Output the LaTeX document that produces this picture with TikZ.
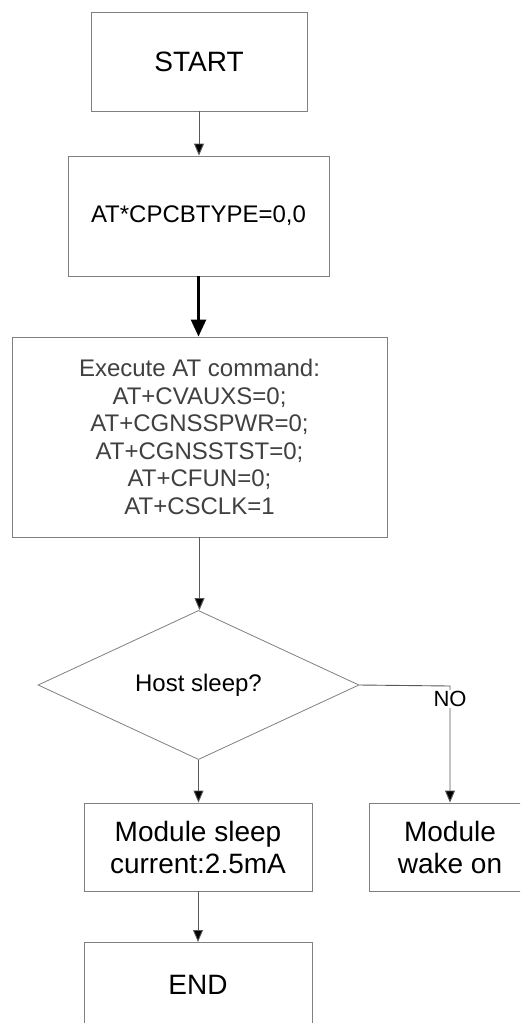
\documentclass[tikz,border=0pt]{standalone}
\usepackage{fontspec}
\setmainfont{Liberation Sans}
\usetikzlibrary{shapes.geometric,arrows.meta}
\begin{document}
\begin{tikzpicture}[x=1pt,y=-1pt,
  stepbox/.style={draw=black!50,line width=0.9pt,fill=white,inner sep=0pt,align=center,text=black},
  decbox/.style={diamond,draw=black!50,line width=0.8pt,inner sep=0pt,text=black},
  conn/.style={draw=black!65,line width=0.9pt,-{Triangle[width=10pt,length=12pt,fill=black]}},
  thickconn/.style={draw=black,line width=2.6pt,-{Triangle[width=15pt,length=17pt,fill=black]}},
  lbl/.style={fill=white,inner sep=1pt,text=black}]
\useasboundingbox (0,0) rectangle (520,1023);
\clip (0,0) rectangle (520,1023);
\fill[white] (0,0) rectangle (520,1023);
\node[stepbox,minimum width=216pt,minimum height=99pt,font=\fontsize{28}{32}\selectfont] (start) at (199,61.5) {START};
\node[stepbox,minimum width=261pt,minimum height=120pt,font=\fontsize{24}{28}\selectfont] (cpcb) at (198.5,216) {AT*CPCBTYPE=0,0};
\node[stepbox,minimum width=375pt,minimum height=200pt,text=black!75,font=\fontsize{24}{27.5}\selectfont] (exec) at (199.5,437) {Execute AT command:\\AT+CVAUXS=0;\\AT+CGNSSPWR=0;\\AT+CGNSSTST=0;\\AT+CFUN=0;\\AT+CSCLK=1};
\node[decbox,minimum width=321pt,minimum height=142pt,font=\fontsize{24}{28}\selectfont] (host) at (198.5,685) {Host sleep?};
\node[stepbox,minimum width=228pt,minimum height=88pt,font=\fontsize{28}{32}\selectfont] (msleep) at (198,847) {Module sleep\\current:2.5mA};
\node[stepbox,minimum width=162pt,minimum height=88pt,font=\fontsize{28}{32}\selectfont] (wake) at (450,847) {Module\\wake on};
\node[stepbox,minimum width=228pt,minimum height=100pt,font=\fontsize{28}{32}\selectfont,anchor=north] (endn) at (198,942) {};
\node[font=\fontsize{28}{32}\selectfont] (endt) at (198,985) {END};
\coordinate (corner) at (450,686);
\draw[conn] (start.south) -- (start.south |- cpcb.north);
\draw[thickconn] (cpcb.south) -- (cpcb.south |- exec.north);
\draw[conn] (exec.south) -- (exec.south |- host.north);
\draw[conn] (host.south) -- (host.south |- msleep.north);
\draw[conn] (msleep.south) -- (msleep.south |- endn.north);
\draw[conn] (host.east) -- (corner) -- (wake.north);
\node[lbl,font=\fontsize{22}{26}\selectfont] (no) at (450,699) {NO};
\end{tikzpicture}
\end{document}
